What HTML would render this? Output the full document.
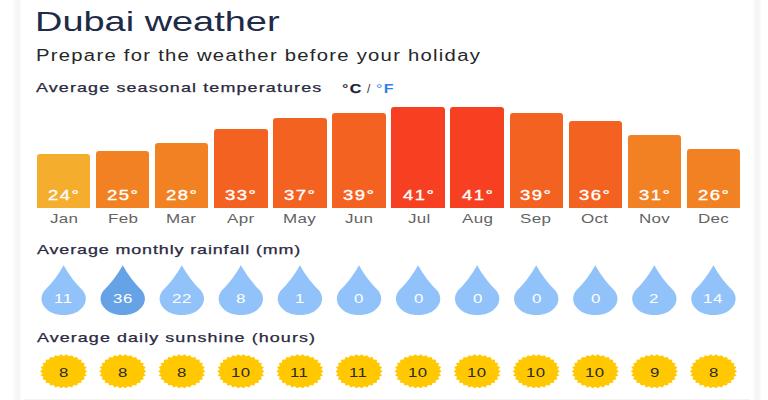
<!DOCTYPE html><html><head><meta charset="utf-8"><style>
*{margin:0;padding:0;box-sizing:border-box}
html,body{width:768px;height:400px;overflow:hidden;background:#fff}
body{position:relative;font-family:"Liberation Sans",Arial,sans-serif}
.t{position:absolute;white-space:nowrap;transform-origin:0 0;line-height:1}
.lb{-webkit-text-stroke:0.25px #2a2a40}
.bvs{-webkit-text-stroke:0.35px #fff}
.shl{position:absolute;top:0;bottom:0;left:12px;width:10px;background:linear-gradient(90deg,rgba(120,100,120,0) 0%,rgba(120,100,120,.06) 45%,rgba(120,100,120,.06) 70%,rgba(120,100,120,0) 100%)}
.shr{position:absolute;top:0;bottom:0;left:752px;width:10px;background:linear-gradient(90deg,rgba(120,100,120,0) 0%,rgba(120,100,120,.06) 35%,rgba(120,100,120,.06) 70%,rgba(120,100,120,0) 100%)}
.shb{position:absolute;left:24px;width:726px;top:398.5px;height:1.5px;background:rgba(100,100,100,.08)}
.bar{position:absolute;border-radius:3px 3px 0 0}
</style></head><body>
<div class="shl"></div><div class="shr"></div><div class="shb"></div>
<div class="bar" style="left:36.95px;width:53.4px;top:154.16px;height:54.04px;background:#f5ad2d"></div>
<div class="bar" style="left:96.02px;width:53.4px;top:151.40px;height:56.80px;background:#f28123"></div>
<div class="bar" style="left:155.09px;width:53.4px;top:143.12px;height:65.08px;background:#f28123"></div>
<div class="bar" style="left:214.16px;width:53.4px;top:129.32px;height:78.88px;background:#f46222"></div>
<div class="bar" style="left:273.23px;width:53.4px;top:118.28px;height:89.92px;background:#f46222"></div>
<div class="bar" style="left:332.30px;width:53.4px;top:112.76px;height:95.44px;background:#f46222"></div>
<div class="bar" style="left:391.37px;width:53.4px;top:107.24px;height:100.96px;background:#f64021"></div>
<div class="bar" style="left:450.44px;width:53.4px;top:107.24px;height:100.96px;background:#f64021"></div>
<div class="bar" style="left:509.51px;width:53.4px;top:112.76px;height:95.44px;background:#f46222"></div>
<div class="bar" style="left:568.58px;width:53.4px;top:121.04px;height:87.16px;background:#f46222"></div>
<div class="bar" style="left:627.65px;width:53.4px;top:134.84px;height:73.36px;background:#f28123"></div>
<div class="bar" style="left:686.72px;width:53.4px;top:148.64px;height:59.56px;background:#f28123"></div>
<svg style="position:absolute;left:0;top:0" width="768" height="400"><path d="M63.65,265.3 Q71.16,279.08 83.02,290.87 A22.17,16.3 0 1 1 44.28,290.87 Q56.14,279.08 63.65,265.3 Z" fill="#91c3fa"/><path d="M122.72,265.3 Q130.23,279.08 142.09,290.87 A22.17,16.3 0 1 1 103.35,290.87 Q115.21,279.08 122.72,265.3 Z" fill="#66a3e6"/><path d="M181.79,265.3 Q189.30,279.08 201.16,290.87 A22.17,16.3 0 1 1 162.42,290.87 Q174.28,279.08 181.79,265.3 Z" fill="#91c3fa"/><path d="M240.86,265.3 Q248.37,279.08 260.23,290.87 A22.17,16.3 0 1 1 221.49,290.87 Q233.35,279.08 240.86,265.3 Z" fill="#91c3fa"/><path d="M299.93,265.3 Q307.44,279.08 319.30,290.87 A22.17,16.3 0 1 1 280.56,290.87 Q292.42,279.08 299.93,265.3 Z" fill="#91c3fa"/><path d="M359.00,265.3 Q366.51,279.08 378.37,290.87 A22.17,16.3 0 1 1 339.63,290.87 Q351.49,279.08 359.00,265.3 Z" fill="#91c3fa"/><path d="M418.07,265.3 Q425.58,279.08 437.44,290.87 A22.17,16.3 0 1 1 398.70,290.87 Q410.56,279.08 418.07,265.3 Z" fill="#91c3fa"/><path d="M477.14,265.3 Q484.65,279.08 496.51,290.87 A22.17,16.3 0 1 1 457.77,290.87 Q469.63,279.08 477.14,265.3 Z" fill="#91c3fa"/><path d="M536.21,265.3 Q543.72,279.08 555.58,290.87 A22.17,16.3 0 1 1 516.84,290.87 Q528.70,279.08 536.21,265.3 Z" fill="#91c3fa"/><path d="M595.28,265.3 Q602.79,279.08 614.65,290.87 A22.17,16.3 0 1 1 575.91,290.87 Q587.77,279.08 595.28,265.3 Z" fill="#91c3fa"/><path d="M654.35,265.3 Q661.86,279.08 673.72,290.87 A22.17,16.3 0 1 1 634.98,290.87 Q646.84,279.08 654.35,265.3 Z" fill="#91c3fa"/><path d="M713.42,265.3 Q720.93,279.08 732.79,290.87 A22.17,16.3 0 1 1 694.05,290.87 Q705.91,279.08 713.42,265.3 Z" fill="#91c3fa"/><polygon points="87.25,371.30 84.77,373.16 86.68,375.41 83.68,376.81 84.80,379.34 81.39,380.17 81.61,382.83 77.97,383.01 77.26,385.58 73.64,385.10 72.09,387.43 68.76,386.32 66.50,388.30 63.65,386.69 60.80,388.30 58.54,386.32 55.21,387.43 53.66,385.10 50.04,385.58 49.33,383.01 45.69,382.83 45.91,380.17 42.50,379.34 43.62,376.81 40.62,375.41 42.53,373.16 40.05,371.30 42.53,369.44 40.62,367.19 43.62,365.79 42.50,363.26 45.91,362.43 45.69,359.77 49.33,359.59 50.04,357.02 53.66,357.50 55.21,355.17 58.54,356.28 60.80,354.30 63.65,355.91 66.50,354.30 68.76,356.28 72.09,355.17 73.64,357.50 77.26,357.02 77.97,359.59 81.61,359.77 81.39,362.43 84.80,363.26 83.68,365.79 86.68,367.19 84.77,369.44" fill="#ffc800"/><polygon points="146.32,371.30 143.84,373.16 145.75,375.41 142.75,376.81 143.87,379.34 140.46,380.17 140.68,382.83 137.04,383.01 136.33,385.58 132.71,385.10 131.16,387.43 127.83,386.32 125.57,388.30 122.72,386.69 119.87,388.30 117.61,386.32 114.28,387.43 112.73,385.10 109.11,385.58 108.40,383.01 104.76,382.83 104.98,380.17 101.57,379.34 102.69,376.81 99.69,375.41 101.60,373.16 99.12,371.30 101.60,369.44 99.69,367.19 102.69,365.79 101.57,363.26 104.98,362.43 104.76,359.77 108.40,359.59 109.11,357.02 112.73,357.50 114.28,355.17 117.61,356.28 119.87,354.30 122.72,355.91 125.57,354.30 127.83,356.28 131.16,355.17 132.71,357.50 136.33,357.02 137.04,359.59 140.68,359.77 140.46,362.43 143.87,363.26 142.75,365.79 145.75,367.19 143.84,369.44" fill="#ffc800"/><polygon points="205.39,371.30 202.91,373.16 204.82,375.41 201.82,376.81 202.94,379.34 199.53,380.17 199.75,382.83 196.11,383.01 195.40,385.58 191.78,385.10 190.23,387.43 186.90,386.32 184.64,388.30 181.79,386.69 178.94,388.30 176.68,386.32 173.35,387.43 171.80,385.10 168.18,385.58 167.47,383.01 163.83,382.83 164.05,380.17 160.64,379.34 161.76,376.81 158.76,375.41 160.67,373.16 158.19,371.30 160.67,369.44 158.76,367.19 161.76,365.79 160.64,363.26 164.05,362.43 163.83,359.77 167.47,359.59 168.18,357.02 171.80,357.50 173.35,355.17 176.68,356.28 178.94,354.30 181.79,355.91 184.64,354.30 186.90,356.28 190.23,355.17 191.78,357.50 195.40,357.02 196.11,359.59 199.75,359.77 199.53,362.43 202.94,363.26 201.82,365.79 204.82,367.19 202.91,369.44" fill="#ffc800"/><polygon points="264.46,371.30 261.98,373.16 263.89,375.41 260.89,376.81 262.01,379.34 258.60,380.17 258.82,382.83 255.18,383.01 254.47,385.58 250.85,385.10 249.30,387.43 245.97,386.32 243.71,388.30 240.86,386.69 238.01,388.30 235.75,386.32 232.42,387.43 230.87,385.10 227.25,385.58 226.54,383.01 222.90,382.83 223.12,380.17 219.71,379.34 220.83,376.81 217.83,375.41 219.74,373.16 217.26,371.30 219.74,369.44 217.83,367.19 220.83,365.79 219.71,363.26 223.12,362.43 222.90,359.77 226.54,359.59 227.25,357.02 230.87,357.50 232.42,355.17 235.75,356.28 238.01,354.30 240.86,355.91 243.71,354.30 245.97,356.28 249.30,355.17 250.85,357.50 254.47,357.02 255.18,359.59 258.82,359.77 258.60,362.43 262.01,363.26 260.89,365.79 263.89,367.19 261.98,369.44" fill="#ffc800"/><polygon points="323.53,371.30 321.05,373.16 322.96,375.41 319.96,376.81 321.08,379.34 317.67,380.17 317.89,382.83 314.25,383.01 313.54,385.58 309.92,385.10 308.37,387.43 305.04,386.32 302.78,388.30 299.93,386.69 297.08,388.30 294.82,386.32 291.49,387.43 289.94,385.10 286.32,385.58 285.61,383.01 281.97,382.83 282.19,380.17 278.78,379.34 279.90,376.81 276.90,375.41 278.81,373.16 276.33,371.30 278.81,369.44 276.90,367.19 279.90,365.79 278.78,363.26 282.19,362.43 281.97,359.77 285.61,359.59 286.32,357.02 289.94,357.50 291.49,355.17 294.82,356.28 297.08,354.30 299.93,355.91 302.78,354.30 305.04,356.28 308.37,355.17 309.92,357.50 313.54,357.02 314.25,359.59 317.89,359.77 317.67,362.43 321.08,363.26 319.96,365.79 322.96,367.19 321.05,369.44" fill="#ffc800"/><polygon points="382.60,371.30 380.12,373.16 382.03,375.41 379.03,376.81 380.15,379.34 376.74,380.17 376.96,382.83 373.32,383.01 372.61,385.58 368.99,385.10 367.44,387.43 364.11,386.32 361.85,388.30 359.00,386.69 356.15,388.30 353.89,386.32 350.56,387.43 349.01,385.10 345.39,385.58 344.68,383.01 341.04,382.83 341.26,380.17 337.85,379.34 338.97,376.81 335.97,375.41 337.88,373.16 335.40,371.30 337.88,369.44 335.97,367.19 338.97,365.79 337.85,363.26 341.26,362.43 341.04,359.77 344.68,359.59 345.39,357.02 349.01,357.50 350.56,355.17 353.89,356.28 356.15,354.30 359.00,355.91 361.85,354.30 364.11,356.28 367.44,355.17 368.99,357.50 372.61,357.02 373.32,359.59 376.96,359.77 376.74,362.43 380.15,363.26 379.03,365.79 382.03,367.19 380.12,369.44" fill="#ffc800"/><polygon points="441.67,371.30 439.19,373.16 441.10,375.41 438.10,376.81 439.22,379.34 435.81,380.17 436.03,382.83 432.39,383.01 431.68,385.58 428.06,385.10 426.51,387.43 423.18,386.32 420.92,388.30 418.07,386.69 415.22,388.30 412.96,386.32 409.63,387.43 408.08,385.10 404.46,385.58 403.75,383.01 400.11,382.83 400.33,380.17 396.92,379.34 398.04,376.81 395.04,375.41 396.95,373.16 394.47,371.30 396.95,369.44 395.04,367.19 398.04,365.79 396.92,363.26 400.33,362.43 400.11,359.77 403.75,359.59 404.46,357.02 408.08,357.50 409.63,355.17 412.96,356.28 415.22,354.30 418.07,355.91 420.92,354.30 423.18,356.28 426.51,355.17 428.06,357.50 431.68,357.02 432.39,359.59 436.03,359.77 435.81,362.43 439.22,363.26 438.10,365.79 441.10,367.19 439.19,369.44" fill="#ffc800"/><polygon points="500.74,371.30 498.26,373.16 500.17,375.41 497.17,376.81 498.29,379.34 494.88,380.17 495.10,382.83 491.46,383.01 490.75,385.58 487.13,385.10 485.58,387.43 482.25,386.32 479.99,388.30 477.14,386.69 474.29,388.30 472.03,386.32 468.70,387.43 467.15,385.10 463.53,385.58 462.82,383.01 459.18,382.83 459.40,380.17 455.99,379.34 457.11,376.81 454.11,375.41 456.02,373.16 453.54,371.30 456.02,369.44 454.11,367.19 457.11,365.79 455.99,363.26 459.40,362.43 459.18,359.77 462.82,359.59 463.53,357.02 467.15,357.50 468.70,355.17 472.03,356.28 474.29,354.30 477.14,355.91 479.99,354.30 482.25,356.28 485.58,355.17 487.13,357.50 490.75,357.02 491.46,359.59 495.10,359.77 494.88,362.43 498.29,363.26 497.17,365.79 500.17,367.19 498.26,369.44" fill="#ffc800"/><polygon points="559.81,371.30 557.33,373.16 559.24,375.41 556.24,376.81 557.36,379.34 553.95,380.17 554.17,382.83 550.53,383.01 549.82,385.58 546.20,385.10 544.65,387.43 541.32,386.32 539.06,388.30 536.21,386.69 533.36,388.30 531.10,386.32 527.77,387.43 526.22,385.10 522.60,385.58 521.89,383.01 518.25,382.83 518.47,380.17 515.06,379.34 516.18,376.81 513.18,375.41 515.09,373.16 512.61,371.30 515.09,369.44 513.18,367.19 516.18,365.79 515.06,363.26 518.47,362.43 518.25,359.77 521.89,359.59 522.60,357.02 526.22,357.50 527.77,355.17 531.10,356.28 533.36,354.30 536.21,355.91 539.06,354.30 541.32,356.28 544.65,355.17 546.20,357.50 549.82,357.02 550.53,359.59 554.17,359.77 553.95,362.43 557.36,363.26 556.24,365.79 559.24,367.19 557.33,369.44" fill="#ffc800"/><polygon points="618.88,371.30 616.40,373.16 618.31,375.41 615.31,376.81 616.43,379.34 613.02,380.17 613.24,382.83 609.60,383.01 608.89,385.58 605.27,385.10 603.72,387.43 600.39,386.32 598.13,388.30 595.28,386.69 592.43,388.30 590.17,386.32 586.84,387.43 585.29,385.10 581.67,385.58 580.96,383.01 577.32,382.83 577.54,380.17 574.13,379.34 575.25,376.81 572.25,375.41 574.16,373.16 571.68,371.30 574.16,369.44 572.25,367.19 575.25,365.79 574.13,363.26 577.54,362.43 577.32,359.77 580.96,359.59 581.67,357.02 585.29,357.50 586.84,355.17 590.17,356.28 592.43,354.30 595.28,355.91 598.13,354.30 600.39,356.28 603.72,355.17 605.27,357.50 608.89,357.02 609.60,359.59 613.24,359.77 613.02,362.43 616.43,363.26 615.31,365.79 618.31,367.19 616.40,369.44" fill="#ffc800"/><polygon points="677.95,371.30 675.47,373.16 677.38,375.41 674.38,376.81 675.50,379.34 672.09,380.17 672.31,382.83 668.67,383.01 667.96,385.58 664.34,385.10 662.79,387.43 659.46,386.32 657.20,388.30 654.35,386.69 651.50,388.30 649.24,386.32 645.91,387.43 644.36,385.10 640.74,385.58 640.03,383.01 636.39,382.83 636.61,380.17 633.20,379.34 634.32,376.81 631.32,375.41 633.23,373.16 630.75,371.30 633.23,369.44 631.32,367.19 634.32,365.79 633.20,363.26 636.61,362.43 636.39,359.77 640.03,359.59 640.74,357.02 644.36,357.50 645.91,355.17 649.24,356.28 651.50,354.30 654.35,355.91 657.20,354.30 659.46,356.28 662.79,355.17 664.34,357.50 667.96,357.02 668.67,359.59 672.31,359.77 672.09,362.43 675.50,363.26 674.38,365.79 677.38,367.19 675.47,369.44" fill="#ffc800"/><polygon points="737.02,371.30 734.54,373.16 736.45,375.41 733.45,376.81 734.57,379.34 731.16,380.17 731.38,382.83 727.74,383.01 727.03,385.58 723.41,385.10 721.86,387.43 718.53,386.32 716.27,388.30 713.42,386.69 710.57,388.30 708.31,386.32 704.98,387.43 703.43,385.10 699.81,385.58 699.10,383.01 695.46,382.83 695.68,380.17 692.27,379.34 693.39,376.81 690.39,375.41 692.30,373.16 689.82,371.30 692.30,369.44 690.39,367.19 693.39,365.79 692.27,363.26 695.68,362.43 695.46,359.77 699.10,359.59 699.81,357.02 703.43,357.50 704.98,355.17 708.31,356.28 710.57,354.30 713.42,355.91 716.27,354.30 718.53,356.28 721.86,355.17 723.41,357.50 727.03,357.02 727.74,359.59 731.38,359.77 731.16,362.43 734.57,363.26 733.45,365.79 736.45,367.19 734.54,369.44" fill="#ffc800"/></svg>
<div class="t" style="left:34.94px;top:6.60px;font-size:28.5px;font-weight:normal;letter-spacing:0.000px;transform:scaleX(1.3308);color:#1d2b47">Dubai weather</div>
<div class="t" style="left:35.90px;top:48.30px;font-size:15.6px;font-weight:normal;letter-spacing:0.967px;transform:scaleX(1.3000);color:#262626">Prepare for the weather before your holiday</div>
<div class="t lb" style="left:36.40px;top:82.30px;font-size:12.8px;font-weight:normal;letter-spacing:0.806px;transform:scaleX(1.4000);color:#2a2a40">Average seasonal temperatures</div>
<div class="t lb" style="left:36.80px;top:243.60px;font-size:12.8px;font-weight:normal;letter-spacing:0.630px;transform:scaleX(1.4000);color:#2a2a40">Average monthly rainfall (mm)</div>
<div class="t lb" style="left:36.50px;top:332.30px;font-size:12.8px;font-weight:normal;letter-spacing:0.771px;transform:scaleX(1.4000);color:#2a2a40">Average daily sunshine (hours)</div>
<div class="t lb" style="left:342.25px;top:82.90px;font-size:12.8px;font-weight:normal;letter-spacing:1.000px;transform:scaleX(1.2500);color:#1e1e2e">°<b>C</b></div>
<div class="t" style="left:367.00px;top:82.90px;font-size:12px;font-weight:normal;letter-spacing:0.000px;transform:scaleX(1.0000);color:#333">/</div>
<div class="t" style="left:376.15px;top:82.90px;font-size:12.8px;font-weight:normal;letter-spacing:1.080px;transform:scaleX(1.2500);color:#2f7fe8">°<b>F</b></div>
<div class="t" style="left:49.85px;top:213.10px;font-size:12.6px;letter-spacing:0.222px;transform:scaleX(1.3500);color:#636363">Jan</div>
<div class="t" style="left:107.57px;top:213.10px;font-size:12.6px;letter-spacing:0.222px;transform:scaleX(1.3500);color:#636363">Feb</div>
<div class="t" style="left:165.97px;top:213.10px;font-size:12.6px;letter-spacing:0.222px;transform:scaleX(1.3500);color:#636363">Mar</div>
<div class="t" style="left:227.06px;top:213.10px;font-size:12.6px;letter-spacing:0.222px;transform:scaleX(1.3500);color:#636363">Apr</div>
<div class="t" style="left:282.75px;top:213.10px;font-size:12.6px;letter-spacing:0.222px;transform:scaleX(1.3500);color:#636363">May</div>
<div class="t" style="left:345.20px;top:213.10px;font-size:12.6px;letter-spacing:0.222px;transform:scaleX(1.3500);color:#636363">Jun</div>
<div class="t" style="left:407.64px;top:213.10px;font-size:12.6px;letter-spacing:0.222px;transform:scaleX(1.3500);color:#636363">Jul</div>
<div class="t" style="left:461.99px;top:213.10px;font-size:12.6px;letter-spacing:0.222px;transform:scaleX(1.3500);color:#636363">Aug</div>
<div class="t" style="left:520.38px;top:213.10px;font-size:12.6px;letter-spacing:0.222px;transform:scaleX(1.3500);color:#636363">Sep</div>
<div class="t" style="left:581.48px;top:213.10px;font-size:12.6px;letter-spacing:0.222px;transform:scaleX(1.3500);color:#636363">Oct</div>
<div class="t" style="left:638.53px;top:213.10px;font-size:12.6px;letter-spacing:0.222px;transform:scaleX(1.3500);color:#636363">Nov</div>
<div class="t" style="left:697.60px;top:213.10px;font-size:12.6px;letter-spacing:0.222px;transform:scaleX(1.3500);color:#636363">Dec</div>
<div class="t bvs" style="left:47.85px;top:187.60px;font-size:14.8px;letter-spacing:1.140px;transform:scaleX(1.2500);color:#fff">24°</div>
<div class="t bvs" style="left:106.92px;top:187.60px;font-size:14.8px;letter-spacing:1.140px;transform:scaleX(1.2500);color:#fff">25°</div>
<div class="t bvs" style="left:165.99px;top:187.60px;font-size:14.8px;letter-spacing:1.140px;transform:scaleX(1.2500);color:#fff">28°</div>
<div class="t bvs" style="left:225.06px;top:187.60px;font-size:14.8px;letter-spacing:1.140px;transform:scaleX(1.2500);color:#fff">33°</div>
<div class="t bvs" style="left:284.13px;top:187.60px;font-size:14.8px;letter-spacing:1.140px;transform:scaleX(1.2500);color:#fff">37°</div>
<div class="t bvs" style="left:343.20px;top:187.60px;font-size:14.8px;letter-spacing:1.140px;transform:scaleX(1.2500);color:#fff">39°</div>
<div class="t bvs" style="left:402.89px;top:187.60px;font-size:14.8px;letter-spacing:1.140px;transform:scaleX(1.2500);color:#fff">41°</div>
<div class="t bvs" style="left:461.96px;top:187.60px;font-size:14.8px;letter-spacing:1.140px;transform:scaleX(1.2500);color:#fff">41°</div>
<div class="t bvs" style="left:520.41px;top:187.60px;font-size:14.8px;letter-spacing:1.140px;transform:scaleX(1.2500);color:#fff">39°</div>
<div class="t bvs" style="left:579.48px;top:187.60px;font-size:14.8px;letter-spacing:1.140px;transform:scaleX(1.2500);color:#fff">36°</div>
<div class="t bvs" style="left:638.55px;top:187.60px;font-size:14.8px;letter-spacing:1.140px;transform:scaleX(1.2500);color:#fff">31°</div>
<div class="t bvs" style="left:697.62px;top:187.60px;font-size:14.8px;letter-spacing:1.140px;transform:scaleX(1.2500);color:#fff">26°</div>
<div class="t" style="left:54.25px;top:292.30px;font-size:13px;letter-spacing:0.462px;transform:scaleX(1.3000);color:#fff">11</div>
<div class="t" style="left:112.67px;top:292.30px;font-size:13px;letter-spacing:0.462px;transform:scaleX(1.3000);color:#fff">36</div>
<div class="t" style="left:171.74px;top:292.30px;font-size:13px;letter-spacing:0.462px;transform:scaleX(1.3000);color:#fff">22</div>
<div class="t" style="left:236.31px;top:292.30px;font-size:13px;letter-spacing:0.462px;transform:scaleX(1.3000);color:#fff">8</div>
<div class="t" style="left:294.73px;top:292.30px;font-size:13px;letter-spacing:0.462px;transform:scaleX(1.3000);color:#fff">1</div>
<div class="t" style="left:354.45px;top:292.30px;font-size:13px;letter-spacing:0.462px;transform:scaleX(1.3000);color:#fff">0</div>
<div class="t" style="left:413.52px;top:292.30px;font-size:13px;letter-spacing:0.462px;transform:scaleX(1.3000);color:#fff">0</div>
<div class="t" style="left:472.59px;top:292.30px;font-size:13px;letter-spacing:0.462px;transform:scaleX(1.3000);color:#fff">0</div>
<div class="t" style="left:531.66px;top:292.30px;font-size:13px;letter-spacing:0.462px;transform:scaleX(1.3000);color:#fff">0</div>
<div class="t" style="left:590.73px;top:292.30px;font-size:13px;letter-spacing:0.462px;transform:scaleX(1.3000);color:#fff">0</div>
<div class="t" style="left:649.15px;top:292.30px;font-size:13px;letter-spacing:0.462px;transform:scaleX(1.3000);color:#fff">2</div>
<div class="t" style="left:703.37px;top:292.30px;font-size:13px;letter-spacing:0.462px;transform:scaleX(1.3000);color:#fff">14</div>
<div class="t" style="left:58.93px;top:366.50px;font-size:12.4px;letter-spacing:0.333px;transform:scaleX(1.3500);color:#2a2a2a">8</div>
<div class="t" style="left:118.00px;top:366.50px;font-size:12.4px;letter-spacing:0.333px;transform:scaleX(1.3500);color:#2a2a2a">8</div>
<div class="t" style="left:177.06px;top:366.50px;font-size:12.4px;letter-spacing:0.333px;transform:scaleX(1.3500);color:#2a2a2a">8</div>
<div class="t" style="left:230.51px;top:366.50px;font-size:12.4px;letter-spacing:0.333px;transform:scaleX(1.3500);color:#2a2a2a">10</div>
<div class="t" style="left:290.25px;top:366.50px;font-size:12.4px;letter-spacing:0.333px;transform:scaleX(1.3500);color:#2a2a2a">11</div>
<div class="t" style="left:349.32px;top:366.50px;font-size:12.4px;letter-spacing:0.333px;transform:scaleX(1.3500);color:#2a2a2a">11</div>
<div class="t" style="left:407.72px;top:366.50px;font-size:12.4px;letter-spacing:0.333px;transform:scaleX(1.3500);color:#2a2a2a">10</div>
<div class="t" style="left:466.79px;top:366.50px;font-size:12.4px;letter-spacing:0.333px;transform:scaleX(1.3500);color:#2a2a2a">10</div>
<div class="t" style="left:525.86px;top:366.50px;font-size:12.4px;letter-spacing:0.333px;transform:scaleX(1.3500);color:#2a2a2a">10</div>
<div class="t" style="left:584.93px;top:366.50px;font-size:12.4px;letter-spacing:0.333px;transform:scaleX(1.3500);color:#2a2a2a">10</div>
<div class="t" style="left:649.63px;top:366.50px;font-size:12.4px;letter-spacing:0.333px;transform:scaleX(1.3500);color:#2a2a2a">9</div>
<div class="t" style="left:708.70px;top:366.50px;font-size:12.4px;letter-spacing:0.333px;transform:scaleX(1.3500);color:#2a2a2a">8</div>
</body></html>
